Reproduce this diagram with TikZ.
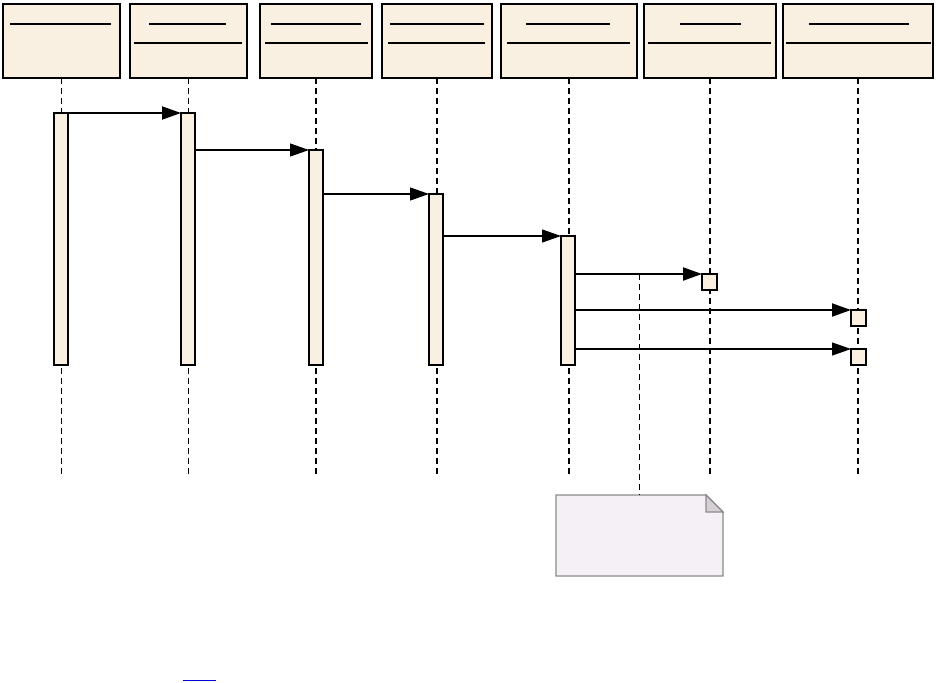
\documentclass[tikz,border=0pt]{standalone}
\usetikzlibrary{arrows.meta}
\definecolor{hdrfill}{HTML}{FAF0E2}
\definecolor{notefill}{HTML}{F5F0F5}
\definecolor{notedraw}{HTML}{8A8A8A}
\definecolor{cornerfill}{HTML}{D6D0D6}
\definecolor{linkblue}{HTML}{0000CC}
\begin{document}
\begin{tikzpicture}[x=1pt,y=-1pt,
  hdrbox/.style={draw=black,line width=1.4pt,fill=hdrfill,anchor=north west,inner sep=0pt,outer sep=0pt,minimum height=74pt},
  actbar/.style={draw=black,line width=1.2pt,fill=hdrfill,anchor=north west,inner sep=0pt,outer sep=0pt,minimum width=14pt},
  smallbox/.style={draw=black,line width=1.2pt,fill=hdrfill,anchor=north west,inner sep=0pt,outer sep=0pt,minimum width=15pt,minimum height=16pt},
  life/.style={draw=black,line width=1.2pt,dash pattern=on 6pt off 4pt},
  hline/.style={draw=black,line width=1.1pt},
  msgthick/.style={draw=black,line width=2pt,-{Triangle[length=19pt,width=13pt]}},
  msgthin/.style={draw=black,line width=1.1pt,-{Triangle[length=19pt,width=13pt]}},
]
\useasboundingbox (0,0) rectangle (936,682);
% headers
\node[hdrbox,minimum width=117pt] (h1) at (3,4) {};
\node[hdrbox,minimum width=117pt] (h2) at (130,4) {};
\node[hdrbox,minimum width=112pt] (h3) at (260,4) {};
\node[hdrbox,minimum width=110pt] (h4) at (382,4) {};
\node[hdrbox,minimum width=136pt] (h5) at (501,4) {};
\node[hdrbox,minimum width=132pt] (h6) at (644,4) {};
\node[hdrbox,minimum width=150pt] (h7) at (783,4) {};
% header rules
\draw[hline] (10,24) -- (111,24);
\draw[hline] (149,24) -- (226,24); \draw[hline] (134,43) -- (242,43);
\draw[hline] (271,24) -- (361,24); \draw[hline] (265,43) -- (368,43);
\draw[hline] (390,24) -- (484,24); \draw[hline] (388,43) -- (485,43);
\draw[hline] (526,24) -- (610,24); \draw[hline] (507,43) -- (630,43);
\draw[hline] (680,24) -- (741,24); \draw[hline] (648,43) -- (771,43);
\draw[hline] (809,24) -- (909,24); \draw[hline] (786,43) -- (931,43);
% lifeline ends
\coordinate (e1) at (h1.south |- 0,477);
\coordinate (e2) at (h2.south |- 0,477);
\coordinate (e3) at (h3.south |- 0,477);
\coordinate (e4) at (h4.south |- 0,477);
\coordinate (e5) at (h5.south |- 0,477);
\coordinate (e6) at (h6.south |- 0,477);
\coordinate (e7) at (h7.south |- 0,477);
\foreach \i in {1,...,7} {\draw[life] (h\i.south) -- (e\i);}
% activation bars
\node[actbar,minimum height=252pt] (a1) at (54,113) {};
\node[actbar,minimum height=252pt] (a2) at (181,113) {};
\node[actbar,minimum height=215pt] (a3) at (309,150) {};
\node[actbar,minimum height=171pt] (a4) at (429,194) {};
\node[actbar,minimum height=129pt] (a5) at (561,236) {};
\node[smallbox] (s1) at (702,274) {};
\node[smallbox] (s2) at (851,310) {};
\node[smallbox] (s3) at (851,349) {};
% messages
\draw[msgthick] (a1.north east) -- (a2.north west);
\draw[msgthin] (a2.east |- a3.north) -- (a3.north west);
\draw[msgthin] (a3.east |- a4.north) -- (a4.north west);
\draw[msgthin] (a4.east |- a5.north) -- (a5.north west);
\draw[msgthick] (a5.east |- s1.north) -- (s1.north west);
\draw[msgthick] (a5.east |- s2.north) -- (s2.north west);
\draw[msgthin] (a5.east |- s3.north) -- (s3.north west);
% note
\node[anchor=north west,inner sep=0pt,outer sep=0pt,minimum width=167pt,minimum height=81pt] (note) at (556,495) {};
\draw[notedraw,line width=1.2pt,fill=notefill]
  (note.north west) -- ([xshift=-17pt]note.north east) -- ([yshift=-17pt]note.north east) -- (note.south east) -- (note.south west) -- cycle;
\draw[notedraw,line width=1.2pt,fill=cornerfill]
  ([xshift=-17pt]note.north east) -- ([xshift=-17pt,yshift=-17pt]note.north east) -- ([yshift=-17pt]note.north east) -- cycle;
\coordinate (nc) at (note.north |- s1.north);
\draw[life] (nc) -- (note.north);
% link underline
\draw[linkblue,line width=1.5pt] (183,680.5) -- (216,680.5);
\end{tikzpicture}
\end{document}
